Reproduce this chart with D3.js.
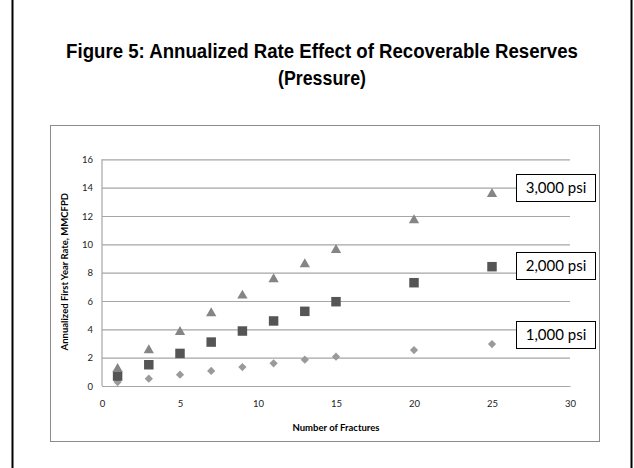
<!DOCTYPE html>
<html>
<head>
<meta charset="utf-8">
<script src="https://cdn.jsdelivr.net/npm/d3@7"></script>
<style>
  html, body { margin: 0; padding: 0; background: #fff; }
  svg { display: block; }
</style>
</head>
<body>
<svg id="chart" width="634" height="468"></svg>
<script>
// Fracture counts on the x axis
const fractures = [1, 3, 5, 7, 9, 11, 13, 15, 20, 25];

// Annualized first year rate (MMCFPD) per reservoir pressure
const rate1000 = [0.28, 0.52, 0.80, 1.06, 1.34, 1.60, 1.86, 2.07, 2.54, 2.96];
const rate2000 = [0.70, 1.50, 2.30, 3.10, 3.88, 4.59, 5.27, 5.95, 7.29, 8.42];
const rate3000 = [1.20, 2.52, 3.81, 5.13, 6.38, 7.53, 8.59, 9.60, 11.70, 13.55];

const seriesNames = ["1,000 psi", "2,000 psi", "3,000 psi"];
// Value each callout box sits on
const calloutValues = [3.6, 8.5, 14];

const xTicks = [0, 5, 10, 15, 20, 25, 30];
const yTicks = [0, 2, 4, 6, 8, 10, 12, 14, 16];

const titleLines = ["Figure 5: Annualized Rate Effect of Recoverable Reserves", "(Pressure)"];
const xTitle = "Number of Fractures";
const yTitle = "Annualized First Year Rate, MMCFPD";

const svg = d3.select("#chart");
const W = 634, H = 468;

// Outer slide frame
svg.append("rect")
  .attr("x", 12.5).attr("y", -5)
  .attr("width", 619).attr("height", H + 10)
  .attr("fill", "#fff").attr("stroke", "#000").attr("stroke-width", 2);

// Title, condensed horizontally to a narrow bold face
const titleFont = "'Liberation Sans Narrow', 'Arial Narrow', 'Liberation Sans', Arial, sans-serif";
const titleWidths = [512, 88];
const titleBase = [58, 85];
titleLines.forEach((line, i) => {
  const g = svg.append("g").attr("transform", `translate(322,${titleBase[i]})`);
  const t = g.append("text")
    .attr("text-anchor", "middle")
    .attr("font-family", titleFont)
    .attr("font-weight", "bold").attr("font-size", 21)
    .attr("fill", "#000")
    .text(line);
  const natural = t.node().getComputedTextLength();
  t.attr("transform", `scale(${titleWidths[i] / natural},1)`);
});

// Chart area frame
svg.append("rect")
  .attr("x", 50.5).attr("y", 125.5)
  .attr("width", 549).attr("height", 316)
  .attr("fill", "#fff").attr("stroke", "#8c8c8c").attr("stroke-width", 1);

const plot = { left: 102, right: 570, top: 159.3, bottom: 386 };

const x = d3.scaleLinear().domain([0, 30]).range([plot.left, plot.right]);
const y = d3.scaleLinear().domain([0, 16]).range([plot.bottom, plot.top]);

const tickFont = "Lato, 'Open Sans', 'Noto Sans', sans-serif";

// Horizontal gridlines with value labels on the left
const yAxis = d3.axisLeft(y).tickValues(yTicks).tickSize(-(plot.right - plot.left)).tickPadding(9);
const gy = svg.append("g").attr("transform", `translate(${plot.left},0)`).call(yAxis);
gy.select(".domain").remove();
gy.selectAll(".tick line").attr("stroke", "#a6a6a6").attr("stroke-width", 1.2);
gy.selectAll(".tick text").attr("font-family", tickFont).attr("font-size", 9.5).attr("fill", "#222");

// Vertical axis line
svg.append("line")
  .attr("x1", plot.left).attr("x2", plot.left)
  .attr("y1", plot.top).attr("y2", plot.bottom)
  .attr("stroke", "#a6a6a6").attr("stroke-width", 1.2);

// Bottom axis labels
const xAxis = d3.axisBottom(x).tickValues(xTicks).tickSize(0).tickPadding(14);
const gx = svg.append("g").attr("transform", `translate(0,${plot.bottom})`).call(xAxis);
gx.select(".domain").attr("stroke", "#a6a6a6").attr("stroke-width", 1.2);
gx.selectAll(".tick text").attr("font-family", tickFont).attr("font-size", 9.5).attr("fill", "#222");

// Axis titles
svg.append("text")
  .attr("x", (plot.left + plot.right) / 2).attr("y", 431)
  .attr("text-anchor", "middle")
  .attr("font-family", tickFont).attr("font-weight", "bold").attr("font-size", 9.5)
  .attr("fill", "#000").text(xTitle);
svg.append("text")
  .attr("transform", `translate(68,${(plot.top + plot.bottom) / 2 - 1}) rotate(-90)`)
  .attr("text-anchor", "middle")
  .attr("font-family", tickFont).attr("font-weight", "bold").attr("font-size", 9.5)
  .attr("fill", "#000").text(yTitle);

// Markers for the three pressures (diamonds are squares turned 45 degrees)
const series = [
  { values: rate1000, shape: d3.symbolSquare, size: 34, rotate: 45, color: "#9a9a9a" },
  { values: rate2000, shape: d3.symbolSquare, size: 90, rotate: 0, color: "#555555" },
  { values: rate3000, shape: d3.symbolTriangle, size: 46, rotate: 0, color: "#858585" }
];

series.forEach(s => {
  svg.append("g").selectAll("path")
    .data(fractures.map((f, i) => ({ f, v: s.values[i] })))
    .join("path")
    .attr("transform", d => `translate(${x(d.f)},${y(d.v)}) rotate(${s.rotate})`)
    .attr("d", d3.symbol().type(s.shape).size(s.size))
    .attr("fill", s.color);
});

// Callout boxes naming each pressure
const boxW = 79, boxH = 27, boxX = 516;
const callouts = svg.append("g");
seriesNames.forEach((name, i) => {
  const cy = y(calloutValues[i]);
  callouts.append("rect")
    .attr("x", boxX + 0.5).attr("y", Math.round(cy - boxH / 2) + 0.5)
    .attr("width", boxW).attr("height", boxH)
    .attr("fill", "#fff").attr("stroke", "#000").attr("stroke-width", 1);
  callouts.append("text")
    .attr("x", boxX + boxW / 2 + 0.5).attr("y", cy + 5.5)
    .attr("text-anchor", "middle")
    .attr("font-family", tickFont).attr("font-size", 15)
    .attr("fill", "#000").text(name);
});
</script>
</body>
</html>
